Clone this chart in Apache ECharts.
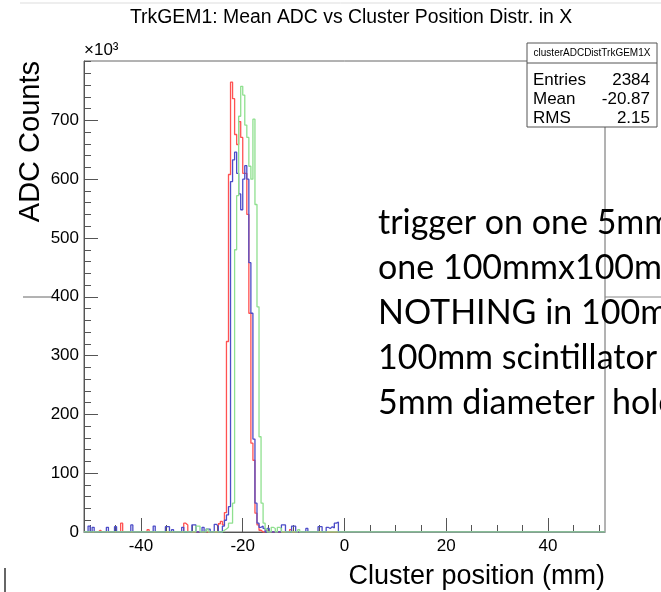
<!DOCTYPE html>
<html>
<head>
<meta charset="utf-8">
<script src="https://cdn.jsdelivr.net/npm/echarts@6/dist/echarts.min.js"></script>
<style>
  html, body { margin: 0; padding: 0; background: #fff; }
  #chart { width: 661px; height: 592px; }
</style>
</head>
<body>
<div id="chart"></div>
<script>
// Histogram binning along X (mm)
const binLow = -51.2;
const binWidth = 0.4;
const nBins = 256;

// Mean ADC per bin, in units of 10^3 counts.
// Peak block starts at bin 68 (-24.0 mm).
const peakStartBin = 68;
const redPeak   = [12, 33, 324, 608, 765, 737, 676, 659, 698, 671, 610, 610, 540, 372, 151, 122, 32, 12, 3];
const bluePeak  = [10, 20, 29, 43, 596, 633, 646, 610, 575, 548, 600, 623, 600, 458, 372, 158, 49, 15, 8];
const greenPeak = [3, 5, 8, 15, 15, 49, 480, 572, 707, 758, 743, 692, 671, 622, 600, 702, 557, 383, 162, 49, 15, 5];

// Isolated low-level bins away from the peak: [bin, value]
const redSparse   = [[7, 3], [18, 15], [31, 4], [49, 15], [50, 12], [66, 14], [67, 18], [89, 3], [101, 4]];
const blueSparse  = [[2, 10], [4, 8], [11, 8], [15, 9], [23, 12], [34, 10], [40, 9], [41, 9], [43, 4], [48, 8],
                     [53, 12], [54, 12], [58, 8], [60, 5], [61, 5], [64, 13], [65, 10], [87, 10], [88, 6], [90, 6],
                     [97, 12], [98, 12], [102, 10], [103, 10], [109, 6], [115, 9], [116, 9], [119, 8], [120, 6],
                     [121, 9], [122, 7], [123, 15], [124, 17]];
const greenSparse = [[55, 10], [56, 10], [60, 5], [92, 8], [93, 6], [95, 8], [96, 6], [105, 4]];

// Axis ticks
const xLabelTicks = [-40, -20, 0, 20, 40];
const xMinorTicks = [-50, -45, -40, -35, -30, -25, -20, -15, -10, -5, 0, 5, 10, 15, 20, 25, 30, 35, 40, 45, 50];
const yLabelTicks = [0, 100, 200, 300, 400, 500, 600, 700];
const yMinorTicks = [0, 20, 40, 60, 80, 100, 120, 140, 160, 180, 200, 220, 240, 260, 280, 300, 320, 340, 360, 380,
                     400, 420, 440, 460, 480, 500, 520, 540, 560, 580, 600, 620, 640, 660, 680, 700, 720, 740, 760, 780, 800];
const yMax = 801;

// Stats box entries
const statsName = 'clusterADCDistTrkGEM1X';
const statsRows = [['Entries', '2384'], ['Mean', '-20.87'], ['RMS', '2.15']];

// Notes on the trigger setup
const noteLines = [
  'trigger on one 5mm',
  'one 100mmx100mm',
  'NOTHING in 100mm',
  '100mm scintillator',
  '5mm diameter  hole'
];

function buildHist(peak, sparse) {
  const v = new Array(nBins).fill(0);
  peak.forEach((y, i) => { v[peakStartBin + i] = y; });
  sparse.forEach(([b, y]) => { v[b] = y; });
  const pts = v.map((y, i) => [binLow + i * binWidth, y]);
  pts.push([binLow + nBins * binWidth, v[nBins - 1]]);
  return pts;
}

const ROOTFONT = '"Liberation Sans", Arial, sans-serif';

function histSeries(name, peak, sparse, color) {
  return {
    name: name,
    type: 'line',
    step: 'end',
    symbol: 'none',
    silent: true,
    xAxisIndex: 0,
    yAxisIndex: 0,
    lineStyle: { color: color, width: 1.3 },
    data: buildHist(peak, sparse)
  };
}

const chart = echarts.init(document.getElementById('chart'));

const graphics = [
  // thin rule along the top
  { type: 'line', shape: { x1: 20, y1: 3, x2: 661, y2: 3 }, style: { stroke: '#ddd', lineWidth: 1 }, z: 100 },
  // title
  { type: 'text', z: 100, style: { text: 'TrkGEM1: Mean ADC vs Cluster Position Distr. in X', x: 130, y: 18,
      fontSize: 19.4, fontFamily: ROOTFONT, fill: '#000', align: 'left', verticalAlign: 'middle' } },
  // exponent
  { type: 'text', z: 100, style: { text: '\u00d710\u00b3', x: 84, y: 59, fontSize: 17, fontFamily: ROOTFONT,
      fill: '#000', align: 'left', verticalAlign: 'bottom' } },
  // Y title
  { type: 'text', z: 100, x: 45, y: 61, rotation: Math.PI / 2,
    style: { text: 'ADC Counts', x: 0, y: 0, fontSize: 29, fontFamily: ROOTFONT, fill: '#000',
      align: 'right', verticalAlign: 'bottom' } },
  // X title
  { type: 'text', z: 100, style: { text: 'Cluster position (mm)', x: 605, y: 590, fontSize: 27, fontFamily: ROOTFONT,
      fill: '#000', align: 'right', verticalAlign: 'bottom' } },
  // stray rules
  { type: 'line', z: 100, shape: { x1: 23, y1: 297, x2: 52, y2: 297 }, style: { stroke: '#666', lineWidth: 1 } },
  { type: 'line', z: 100, shape: { x1: 605, y1: 297, x2: 661, y2: 297 }, style: { stroke: '#888', lineWidth: 1 } },
  { type: 'line', z: 100, shape: { x1: 5, y1: 568, x2: 5, y2: 592 }, style: { stroke: '#333', lineWidth: 1.5 } },
  // stats box
  { type: 'rect', z: 100, shape: { x: 527, y: 43, width: 130, height: 84 },
    style: { fill: '#fff', stroke: '#555', lineWidth: 1 } },
  { type: 'line', z: 101, shape: { x1: 527, y1: 63, x2: 657, y2: 63 }, style: { stroke: '#555', lineWidth: 1 } },
  { type: 'text', z: 101, style: { text: statsName, x: 592, y: 53, fontSize: 10, fontFamily: ROOTFONT,
      fill: '#000', align: 'center', verticalAlign: 'middle' } }
];

statsRows.forEach(([label, value], i) => {
  const y = 80 + i * 19;
  graphics.push({ type: 'text', z: 101, style: { text: label, x: 533, y: y, fontSize: 17, fontFamily: ROOTFONT,
    fill: '#000', align: 'left', verticalAlign: 'middle' } });
  graphics.push({ type: 'text', z: 101, style: { text: value, x: 650, y: y, fontSize: 17, fontFamily: ROOTFONT,
    fill: '#000', align: 'right', verticalAlign: 'middle' } });
});

noteLines.forEach((t, i) => {
  graphics.push({ type: 'text', z: 99, style: { text: t, x: 378, y: 223 + i * 45, fontSize: 34,
    fontFamily: 'Lato, "Noto Sans", sans-serif', fill: '#000', align: 'left', verticalAlign: 'middle' } });
});

const axisColor = '#555';

chart.setOption({
  animation: false,
  backgroundColor: '#fff',
  grid: { left: 84, right: 56, top: 61, bottom: 60, show: true, borderColor: '#666', borderWidth: 1,
          backgroundColor: 'transparent' },
  xAxis: [
    { type: 'value', min: binLow, max: -binLow, position: 'bottom',
      axisLine: { onZero: false, lineStyle: { color: axisColor, width: 1 } },
      axisTick: { inside: true, length: 7, customValues: xMinorTicks, lineStyle: { color: axisColor } },
      axisLabel: { customValues: xLabelTicks, fontSize: 17, fontFamily: ROOTFONT, color: '#000', margin: 6 },
      splitLine: { show: false } },
    { type: 'value', min: binLow, max: -binLow, position: 'bottom', offset: 0,
      axisLine: { show: false, onZero: false },
      axisTick: { inside: true, length: 14, customValues: xLabelTicks, lineStyle: { color: axisColor } },
      axisLabel: { show: false }, splitLine: { show: false } }
  ],
  yAxis: [
    { type: 'value', min: 0, max: yMax, position: 'left',
      axisLine: { show: true, onZero: false, lineStyle: { color: axisColor, width: 1 } },
      axisTick: { show: true, inside: true, length: 7, customValues: yMinorTicks, lineStyle: { color: axisColor } },
      axisLabel: { customValues: yLabelTicks, fontSize: 17, fontFamily: ROOTFONT, color: '#000', margin: 5 },
      splitLine: { show: false } },
    { type: 'value', min: 0, max: yMax, position: 'left', offset: 0,
      axisLine: { show: false, onZero: false },
      axisTick: { show: true, inside: true, length: 14, customValues: yLabelTicks, lineStyle: { color: axisColor } },
      axisLabel: { show: false }, splitLine: { show: false } }
  ],
  series: [
    histSeries('red', redPeak, redSparse, '#ff5252'),
    histSeries('blue', bluePeak, blueSparse, '#4c4cc8'),
    histSeries('green', greenPeak, greenSparse, '#8fe08f')
  ],
  graphic: { elements: graphics }
});
</script>
</body>
</html>
